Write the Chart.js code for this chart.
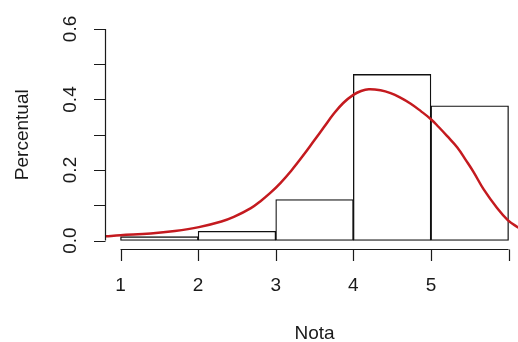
<!DOCTYPE html>
<html>
<head>
<meta charset="utf-8">
<script src="https://cdn.jsdelivr.net/npm/chart.js@4/dist/chart.umd.min.js"></script>
<style>
  html, body { margin: 0; padding: 0; background: #fff; }
  #wrap { width: 518px; height: 342px; position: relative; }
</style>
</head>
<body>
<div id="wrap"><canvas id="histChart"></canvas></div>
<script>
// histogram bins (midpoints) and density heights
const binMids = [1.5, 2.5, 3.5, 4.5, 5.5];
const binDensity = [0.011, 0.026, 0.116, 0.471, 0.382];

// red density curve
const curveX = [0.81, 1.0, 1.39, 1.7, 2.01, 2.3, 2.46, 2.68, 2.8, 2.93, 3.06, 3.2, 3.36, 3.5, 3.62, 3.75, 3.87, 4.0, 4.1, 4.2, 4.35, 4.48, 4.6, 4.74, 4.87, 5.0, 5.1, 5.21, 5.34, 5.45, 5.55, 5.68, 5.85, 5.99, 6.13];
const curveY = [0.012, 0.015, 0.020, 0.027, 0.038, 0.054, 0.067, 0.092, 0.111, 0.135, 0.163, 0.198, 0.243, 0.285, 0.321, 0.360, 0.390, 0.413, 0.424, 0.429, 0.426, 0.418, 0.406, 0.388, 0.367, 0.344, 0.322, 0.296, 0.264, 0.228, 0.194, 0.145, 0.093, 0.058, 0.036];

const xTicks = [1, 2, 3, 4, 5, 6];
const xTickLabels = ['1', '2', '3', '4', '5', ''];
const yTicks = [0, 0.1, 0.2, 0.3, 0.4, 0.5, 0.6];
const yTickLabels = ['0.0', '', '0.2', '', '0.4', '', '0.6'];

const FONT = '19px "Liberation Sans", Arial, sans-serif';
const INK = '#1a1a1a';

// R style base graphics axes, drawn off the chart scales
const rAxesPlugin = {
    id: 'rAxes',
    afterDraw: (chart) => {
        const ctx = chart.ctx;
        const xs = chart.scales.x;
        const ys = chart.scales.y;
        const area = chart.chartArea;
        const tick = 11.5;
        ctx.save();
        ctx.strokeStyle = INK;
        ctx.fillStyle = INK;
        ctx.lineWidth = 1.2;
        ctx.font = FONT;

        // x axis, at the bottom edge of the plot region
        const yAx = Math.round(area.bottom) + 0.5;
        ctx.beginPath();
        ctx.moveTo(xs.getPixelForValue(xTicks[0]), yAx);
        ctx.lineTo(xs.getPixelForValue(xTicks[xTicks.length - 1]), yAx);
        xTicks.forEach(v => {
            const px = Math.round(xs.getPixelForValue(v)) + 0.5;
            ctx.moveTo(px, yAx);
            ctx.lineTo(px, yAx + tick);
        });
        ctx.stroke();
        ctx.textAlign = 'center';
        ctx.textBaseline = 'middle';
        xTicks.forEach((v, i) => {
            ctx.fillText(xTickLabels[i], xs.getPixelForValue(v), 286);
        });

        // y axis, at the left edge of the plot region
        const xAx = Math.round(area.left) + 0.5;
        ctx.beginPath();
        ctx.moveTo(xAx, ys.getPixelForValue(yTicks[0]));
        ctx.lineTo(xAx, ys.getPixelForValue(yTicks[yTicks.length - 1]));
        yTicks.forEach(v => {
            const py = Math.round(ys.getPixelForValue(v)) + 0.5;
            ctx.moveTo(xAx, py);
            ctx.lineTo(xAx - tick, py);
        });
        ctx.stroke();
        yTicks.forEach((v, i) => {
            if (!yTickLabels[i]) return;
            ctx.save();
            ctx.translate(71, ys.getPixelForValue(v));
            ctx.rotate(-Math.PI / 2);
            ctx.fillText(yTickLabels[i], 0, 0);
            ctx.restore();
        });

        // axis titles
        ctx.fillText('Nota', (xs.getPixelForValue(0.8) + xs.getPixelForValue(6.2)) / 2, 334);
        ctx.save();
        ctx.translate(23, (area.top + area.bottom) / 2);
        ctx.rotate(-Math.PI / 2);
        ctx.fillText('Percentual', 0, 0);
        ctx.restore();
        ctx.restore();
    }
};

new Chart(document.getElementById('histChart').getContext('2d'), {
    type: 'bar',
    data: {
        datasets: [
            {
                type: 'line',
                label: 'Densidade',
                data: curveX.map((x, i) => ({ x: x, y: curveY[i] })),
                borderColor: '#c41a1f',
                borderWidth: 2.5,
                pointRadius: 0,
                tension: 0.4,
                fill: false,
                order: 0
            },
            {
                type: 'bar',
                label: 'Nota',
                data: binMids.map((x, i) => ({ x: x, y: binDensity[i] })),
                backgroundColor: '#ffffff',
                borderColor: '#111',
                borderWidth: 1.3,
                borderSkipped: false,
                barPercentage: 1,
                categoryPercentage: 1,
                order: 1
            }
        ]
    },
    options: {
        responsive: true, maintainAspectRatio: false, animation: false,
        layout: { padding: { left: 105, right: 0, top: 20.5, bottom: 93 } },
        plugins: { legend: { display: false }, tooltip: { enabled: false } },
        scales: {
            x: { type: 'linear', display: false, min: 0.8, max: 6.122, offset: false },
            y: { display: false, min: -0.024, max: 0.624 }
        }
    },
    plugins: [rAxesPlugin]
});
</script>
</body>
</html>
